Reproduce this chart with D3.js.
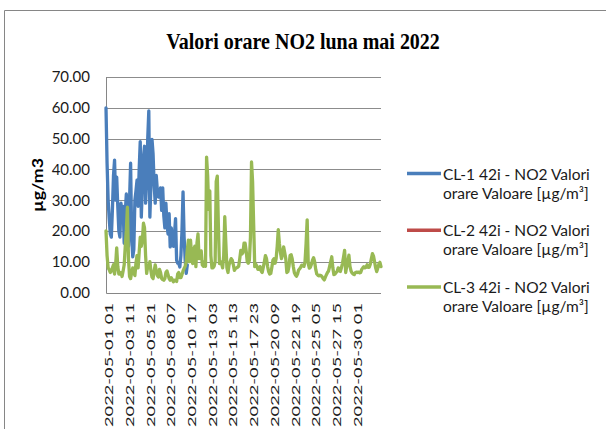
<!DOCTYPE html>
<html lang="ro">
<head>
<meta charset="utf-8">
<title>Valori orare NO2 luna mai 2022</title>
<script src="https://cdn.jsdelivr.net/npm/d3@7"></script>
<style>
  body { margin: 0; background: #fff; }
  svg { display: block; font-family: Lato, "Open Sans", sans-serif; }
  .frame, .axis-line { stroke: #868686; fill: none; }
  .grid line { stroke: #8c8c8c; stroke-width: 1; }
  .ylab { font-size: 15px; fill: #1a1a1a; }
  .xlab { font-size: 12px; fill: #1a1a1a; }
  .title { font-family: "Liberation Serif", "Times New Roman", serif; font-weight: bold; font-size: 20px; }
  .legend text { font-size: 15.5px; fill: #1a1a1a; }
</style>
</head>
<body>
<svg id="chart" width="606" height="429"></svg>
<script>
// one value every 3 hours, first value at 2022-05-01 01
var stepHours = 3;
var lastHour = 771;

var cl1 = [60, 42, 30, 24, 19, 18, 27, 38, 43, 30,
  37.5, 28, 20, 18, 29, 24, 28, 16, 26, 32,
  20, 15, 30, 42, 18, 11.6, 14, 30, 33, 36.5,
  28, 40, 49, 24.5, 35, 44, 47.5, 29, 36, 50,
  59, 24.5, 35, 49.7, 45, 35, 29, 38, 33, 31,
  32, 34, 26.7, 34, 25, 21, 29, 22, 19, 25.6,
  14.8, 21, 17, 15, 19, 24, 10.5, 9.5, 9.4, 8.3,
  12, 20, 32.7, 18, 10.5, 6.2, 9];

var cl2 = [];

var cl3 = [20, 12, 8, 7.4, 6.5, 7, 8, 9, 6, 9,
  14.5, 8.5, 6, 6, 6.5, 5.2, 7, 9, 15, 20,
  27.7, 11, 5.2, 4.5, 6.5, 8, 6.5, 5.5, 9.5, 12,
  8, 13, 18, 15, 17, 22.5, 21, 12, 6.2, 8.5,
  8, 10, 7, 5, 4.5, 7, 9, 7, 5.5, 5,
  7.5, 6.5, 4.6, 4.2, 4, 4.5, 6.5, 7, 5.8, 4.5,
  4, 4.8, 4.2, 3.5, 4, 3.8, 3.6, 6, 6.5, 4.8,
  4.8, 5.8, 7, 7.8, 8.5, 10, 14, 17, 10, 17,
  12, 9.4, 14, 15, 8.4, 16, 19, 11, 12, 13.5,
  9, 8.5, 10, 8.5, 44, 38, 27, 33, 12, 8,
  8, 8.5, 10, 36, 37.8, 22, 9.4, 10, 9.5, 8,
  12, 24.6, 16, 8, 6.5, 9, 10, 11, 10.5, 9,
  7.2, 7.8, 8, 8.2, 8.5, 11, 13.7, 12.5, 13, 16,
  16, 13.5, 10, 9.5, 10.5, 18, 42.4, 36, 22, 8.4,
  9.2, 8.5, 7.5, 7.5, 8.4, 7, 6.5, 8.2, 10, 12,
  11, 8.5, 6.8, 6, 6.2, 8.2, 10.5, 11, 9.5, 11,
  15, 20.4, 16, 13, 11, 12.5, 14.8, 13, 11, 6.5,
  6.8, 8.5, 12, 12.3, 11, 8.5, 6.5, 5.7, 5.3, 6,
  7.3, 7.7, 8.2, 8.9, 8.7, 8.5, 10, 16, 23.6, 9.4,
  7.9, 8.2, 9.2, 10.5, 11.3, 10, 7.5, 6, 5.6, 5.4,
  5.6, 5.5, 5.1, 4.5, 4.1, 5, 5.8, 6.5, 7, 8.5,
  10, 11.6, 8, 5.8, 6, 6.5, 6.8, 8, 7.8, 6.8,
  8, 9.5, 11.5, 13.7, 6.5, 8.5, 10, 12.1, 8.5, 7,
  6.3, 6, 5.8, 6.4, 6.6, 6.5, 6.6, 6.4, 6.5, 7.5,
  8, 8.4, 8, 8.2, 9, 8.2, 8.2, 9.2, 11, 12.6,
  11.8, 10, 8, 6.8, 7.9, 9.2, 9.8, 8.4];

var xTickLabels = ["2022-05-01 01", "2022-05-03 11", "2022-05-05 21", "2022-05-08 07",
  "2022-05-10 17", "2022-05-13 03", "2022-05-15 13", "2022-05-17 23", "2022-05-20 09",
  "2022-05-22 19", "2022-05-25 05", "2022-05-27 15", "2022-05-30 01"];
var xTickEvery = 58;
var yTicks = [0, 10, 20, 30, 40, 50, 60, 70];

var seriesNames = ["CL-1 42i - NO2 Valori", "CL-2 42i - NO2 Valori", "CL-3 42i - NO2 Valori"];
var seriesColors = ["#4a7ebb", "#be4b48", "#98b954"];

var plot = {left: 106, right: 381, top: 77, bottom: 292.5};

var svg = d3.select("#chart");

// chart frame (runs off the right and bottom of the picture)
svg.append("path").attr("class", "frame")
  .attr("d", "M4.5,440V10.5H620");

svg.append("text").attr("class", "title")
  .attr("transform", "translate(303,49) scale(1,1.12)")
  .attr("text-anchor", "middle")
  .text("Valori orare NO2 luna mai 2022");

var x = d3.scaleLinear().domain([0, lastHour]).range([plot.left, plot.right]);
var y = d3.scaleLinear().domain([0, 70]).range([plot.bottom, plot.top]);

var grid = svg.append("g").attr("class", "grid");
grid.selectAll("line").data(yTicks.filter(function(d) { return d > 0; }))
  .enter().append("line")
    .attr("x1", plot.left).attr("x2", plot.right)
    .attr("y1", function(d) { return Math.round(y(d)) + 0.5; })
    .attr("y2", function(d) { return Math.round(y(d)) + 0.5; });

svg.append("path").attr("class", "axis-line")
  .attr("d", "M" + (plot.left + 0.5) + "," + plot.top + "V" + (Math.round(y(0)) + 0.5) + "H" + plot.right);

svg.append("g").selectAll("text").data(yTicks)
  .enter().append("text")
    .attr("class", "ylab")
    .attr("x", 90)
    .attr("y", function(d) { return y(d); })
    .attr("dy", "0.36em")
    .attr("text-anchor", "end")
    .text(function(d) { return d3.format(".2f")(d); });

svg.append("text")
  .attr("transform", "translate(38,185) rotate(-90)")
  .attr("text-anchor", "middle")
  .attr("dy", "0.36em")
  .attr("textLength", 54).attr("lengthAdjust", "spacingAndGlyphs")
  .style("font-weight", "bold").style("font-size", "15px")
  .text("µg/m3");

svg.append("g").selectAll("text").data(xTickLabels)
  .enter().append("text")
    .attr("class", "xlab")
    .attr("transform", function(d, i) {
      return "translate(" + (x(i * xTickEvery) + 3) + ",303) rotate(-90)";
    })
    .attr("text-anchor", "end")
    .attr("dy", "0.36em")
    .attr("textLength", 124).attr("lengthAdjust", "spacingAndGlyphs")
    .text(function(d) { return d; });

var line = d3.line()
  .x(function(d, i) { return x(i * stepHours); })
  .y(function(d) { return y(d); });

[cl1, cl2, cl3].forEach(function(s, i) {
  if (!s.length) return;
  svg.append("path")
    .attr("d", line(s))
    .attr("fill", "none")
    .attr("stroke", seriesColors[i])
    .attr("stroke-width", 3.3)
    .attr("stroke-linejoin", "round")
    .attr("stroke-linecap", "round");
});

var legend = svg.append("g").attr("class", "legend");
var items = legend.selectAll("g").data(seriesNames)
  .enter().append("g")
    .attr("transform", function(d, i) { return "translate(407," + (173.5 + i * 56.7) + ")"; });
items.append("line")
  .attr("x1", 0).attr("x2", 34)
  .attr("stroke", function(d, i) { return seriesColors[i]; })
  .attr("stroke-width", 3.5);
items.append("text").attr("x", 36).attr("y", 6).text(function(d) { return d; });
items.append("text").attr("x", 36).attr("y", 25).text("orare Valoare [µg/m³]");
</script>
</body>
</html>
